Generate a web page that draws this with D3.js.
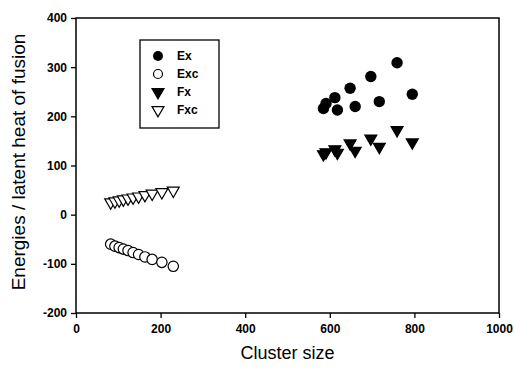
<!DOCTYPE html>
<html><head><meta charset="utf-8">
<script src="https://cdn.jsdelivr.net/npm/d3@7"></script>
<style>body{margin:0;background:#fff}</style>
</head><body>
<svg id="c" width="514" height="369"></svg>
<script>
// Data
const exX = [585, 591, 612, 618, 648, 660, 697, 717, 759, 795];
const exY = [216, 226, 238, 213, 257, 220, 281, 230, 309, 245];
const fxY = [123, 127, 133, 126, 145, 130, 155, 138, 172, 147];
const smallX = [82, 92, 102, 112, 123, 135, 148, 163, 180, 203, 230];
const excY = [-60, -64, -67, -70, -73, -77, -81, -86, -91, -97, -105];
const fxcY = [25, 27, 29, 31, 33, 35, 37, 40, 43, 46, 49];
const xTicks = [0, 200, 400, 600, 800, 1000];
const yTicks = [-200, -100, 0, 100, 200, 300, 400];
const legendLabels = ["Ex", "Exc", "Fx", "Fxc"];

const FONT = "Liberation Sans, Arial, sans-serif";
const svg = d3.select("#c");
const L = 76, R = 499, T = 18, B = 313;
const x = d3.scaleLinear().domain([0, 1000]).range([L, R]);
const y = d3.scaleLinear().domain([-200, 400]).range([B, T]);

// frame
svg.append("rect").attr("x", L).attr("y", T).attr("width", R - L).attr("height", B - T)
  .attr("fill", "none").attr("stroke", "#000").attr("stroke-width", 1.5);

const fmt = d => String(d);
const xa = svg.append("g").attr("transform", `translate(0,${B})`)
  .call(d3.axisBottom(x).tickValues(xTicks).tickSize(5).tickPadding(6).tickFormat(fmt));
const ya = svg.append("g").attr("transform", `translate(${L},0)`)
  .call(d3.axisLeft(y).tickValues(yTicks).tickSize(5).tickPadding(4).tickFormat(fmt));
[xa, ya].forEach(a => {
  a.select(".domain").remove();
  a.selectAll("line").attr("stroke", "#000").attr("stroke-width", 1.3);
  a.selectAll("text").attr("font-family", FONT)
    .attr("font-weight", "bold").attr("font-size", 12).attr("fill", "#000");
});

const tri = d3.symbol().type(d3.symbolTriangle).size(62);
function drawTri(g, px, py, filled) {
  g.append("path").attr("d", tri())
    .attr("transform", `translate(${px},${py}) rotate(180)`)
    .attr("fill", filled ? "#000" : "#fff").attr("stroke", "#000").attr("stroke-width", 1.2);
}

// Fxc
const g = svg.append("g");
smallX.forEach((v, i) => drawTri(g, x(v), y(fxcY[i]), false));
// Exc
g.selectAll("circle.exc").data(smallX).enter().append("circle")
  .attr("cx", d => x(d)).attr("cy", (d, i) => y(excY[i])).attr("r", 5.2)
  .attr("fill", "#fff").attr("stroke", "#000").attr("stroke-width", 1.2);
// Fx
exX.forEach((v, i) => drawTri(g, x(v), y(fxY[i]), true));
// Ex
g.selectAll("circle.ex").data(exX).enter().append("circle")
  .attr("cx", d => x(d)).attr("cy", (d, i) => y(exY[i])).attr("r", 5.7).attr("fill", "#000");

// Legend
const lg = svg.append("g");
lg.append("rect").attr("x", 140).attr("y", 40).attr("width", 79).attr("height", 88)
  .attr("fill", "#fff").attr("stroke", "#000").attr("stroke-width", 1.3);
legendLabels.forEach((t, i) => {
  const ly = 56 + i * 18, lx = 158;
  if (i === 0) lg.append("circle").attr("cx", lx).attr("cy", ly).attr("r", 5).attr("fill", "#000");
  if (i === 1) lg.append("circle").attr("cx", lx).attr("cy", ly).attr("r", 4.5).attr("fill", "#fff").attr("stroke", "#000").attr("stroke-width", 1.2);
  if (i === 2) drawTri(lg, lx, ly, true);
  if (i === 3) drawTri(lg, lx, ly, false);
  lg.append("text").attr("x", 177).attr("y", ly + 4).text(t)
    .attr("font-family", FONT).attr("font-weight", "bold").attr("font-size", 12);
});

// Axis titles
svg.append("text").attr("x", (L + R) / 2).attr("y", 359).attr("text-anchor", "middle")
  .attr("font-family", FONT).attr("font-size", 18).text("Cluster size");
svg.append("text").attr("transform", `translate(25,162) rotate(-90)`).attr("text-anchor", "middle")
  .attr("font-family", FONT).attr("font-size", 19).text("Energies / latent heat of fusion");
</script>
</body></html>
